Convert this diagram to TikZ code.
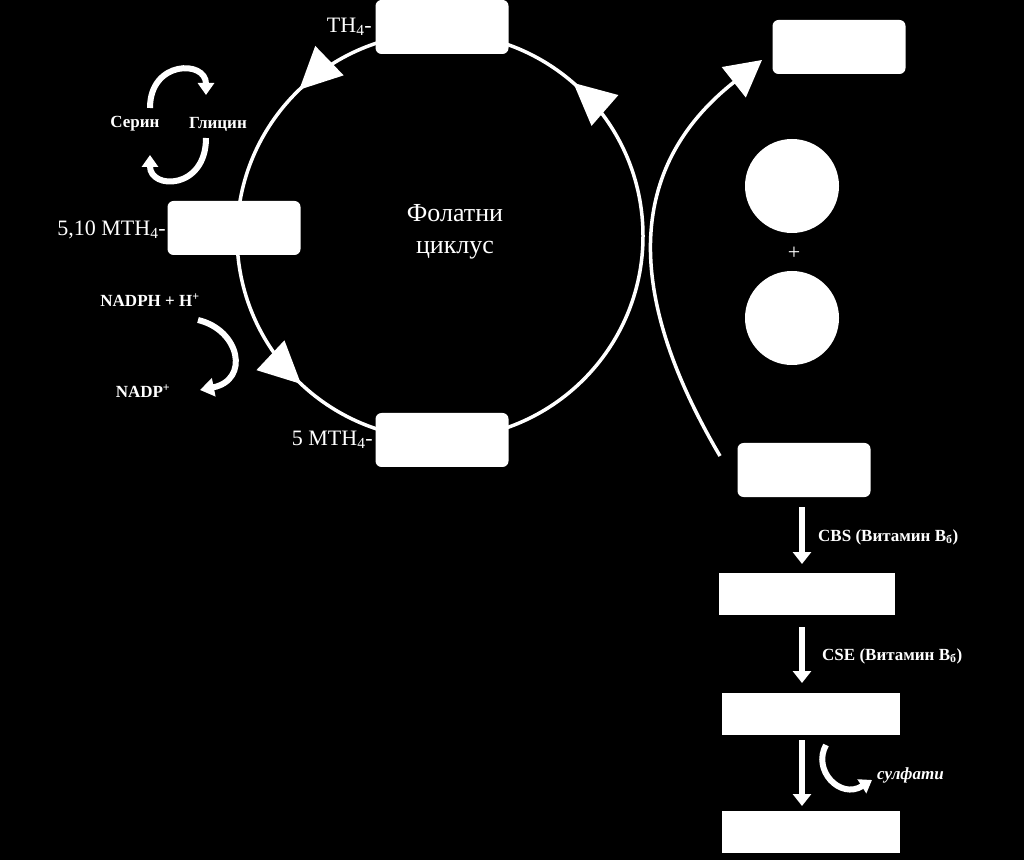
\documentclass[tikz,border=0pt]{standalone}
\usepackage{fontspec}
\setmainfont{Liberation Serif}
\usetikzlibrary{arrows.meta,decorations.markings}
\begin{document}
\begin{tikzpicture}[x=1pt,y=1pt,
  rbox/.style={fill=white,rounded corners=6pt,minimum width=133pt,minimum height=54pt,inner sep=0pt},
  sbox/.style={fill=white,minimum height=42pt,inner sep=0pt},
  lab/.style={text=white,font=\fontsize{22}{24}\selectfont,inner sep=0pt},
  blab/.style={text=white,font=\bfseries\fontsize{17}{19}\selectfont,inner sep=0pt},
  wl/.style={draw=white,line width=3.5pt},
  fat/.style={draw=white,line width=6pt},
  big/.style={-{Triangle[length=40pt,width=40pt]}}]
\fill[black] (0,0) rectangle (1024,860);
\useasboundingbox (0,0) rectangle (1024,860);
% folate cycle
\coordinate (cc) at (440,624);
\draw[wl,decoration={markings,
  mark=at position 0.136 with {\arrow{Triangle[length=42pt,width=40pt]}},
  mark=at position 0.372 with {\arrow{Triangle[length=42pt,width=40pt]}},
  mark=at position 0.63 with {\arrow{Triangle[length=42pt,width=40pt]}}},postaction=decorate]
  (643,624) arc[start angle=0,end angle=360,radius=203];
\node[rbox] (th4) at (442,833) {};
\node[rbox] (m510) at (234,632) {};
\node[rbox] (m5) at (442,420) {};
\node[lab,anchor=east] (th4l) at (372,833) {TH\textsubscript{4}-};
\node[lab,anchor=east] (m510l) at (166,630) {5,10 MTH\textsubscript{4}-};
\node[lab,anchor=east] (m5l) at (373,420) {5 MTH\textsubscript{4}-};
\node[text=white,font=\fontsize{26}{32}\selectfont,align=center] (fc) at (455,628) {Фолатни\\циклус};
% serine/glycine
\node[blab] (ser) at (135,736) {Серин};
\node[blab] (gly) at (218,736) {Глицин};
\draw[fat,-{Triangle[length=12pt,width=16pt]}] (150,752) .. controls (150,800) and (206,800) .. (206,765);
\draw[fat,-{Triangle[length=12pt,width=16pt]}] (206,722) .. controls (206,670) and (150,670) .. (150,705);
% NADPH
\node[blab] (nadph) at (150,560) {NADPH + H\textsuperscript{+}};
\node[blab] (nadp) at (143,469) {NADP\textsuperscript{+}};
\draw[fat,-{Triangle[length=14pt,width=18pt]}] (198,540) .. controls (240,530) and (250,480) .. (200,470);
% right side
\node[rbox] (top) at (839,813) {};
\node[circle,fill=white,minimum size=94pt,inner sep=0pt] (c1) at (792,674) {};
\node[circle,fill=white,minimum size=94pt,inner sep=0pt] (c2) at (792,542) {};
\node[text=white,font=\fontsize{22}{24}\selectfont] (plus) at (794,607) {+};
\node[rbox] (hcy) at (804,390) {};
\coordinate (cstart) at (720,404);
\coordinate (cend) at (762,800);
\draw[wl,-{Triangle[length=36pt,width=38pt]}] (cstart) .. controls (640,540) and (610,680) .. (cend);
\node[sbox,minimum width=176pt] (b1) at (807,266) {};
\node[sbox,minimum width=178pt] (b2) at (811,146) {};
\node[sbox,minimum width=178pt] (b3) at (811,28) {};
\draw[fat,-{Triangle[length=12pt,width=18pt]}] (802,353) -- (802,296);
\draw[fat,-{Triangle[length=12pt,width=18pt]}] (802,233) -- (802,177);
\draw[fat,-{Triangle[length=12pt,width=18pt]}] (802,120) -- (802,54);
\node[blab,anchor=west] (cbs) at (818,323) {CBS (Витамин B\textsubscript{б})};
\node[blab,anchor=west] (cse) at (822,204) {CSE (Витамин B\textsubscript{б})};
\node[blab,anchor=west,font=\bfseries\itshape\fontsize{17}{19}\selectfont] (sul) at (877,85) {сулфати};
\draw[fat,-{Triangle[length=12pt,width=16pt]}] (826,115) .. controls (812,90) and (840,60) .. (872,80);
\end{tikzpicture}
\end{document}
